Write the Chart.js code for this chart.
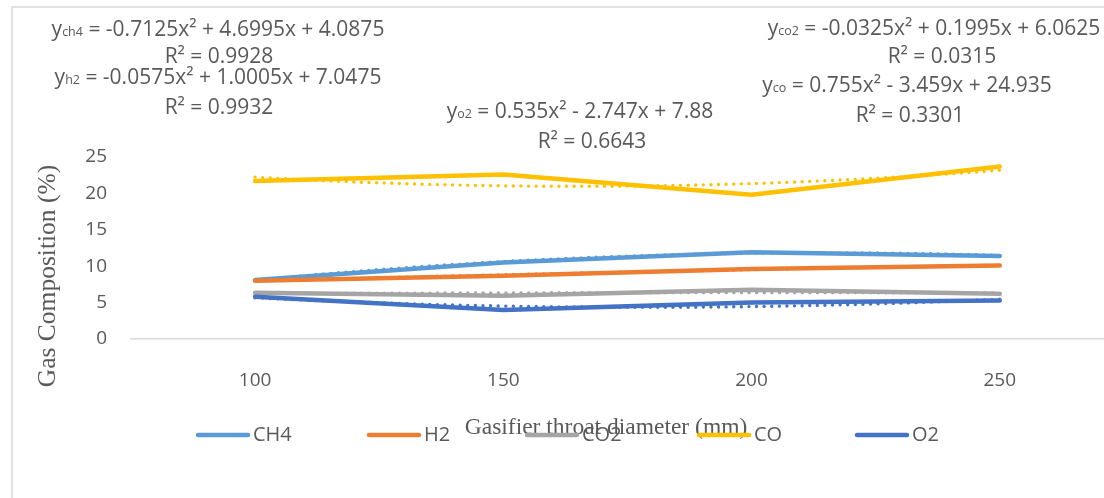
<!DOCTYPE html>
<html>
<head>
<meta charset="utf-8">
<script src="https://cdn.jsdelivr.net/npm/chart.js@4.4.1/dist/chart.umd.min.js"></script>
<style>
  html, body { margin: 0; padding: 0; background: #ffffff; overflow: hidden; }
  #wrap { position: relative; width: 1104px; height: 498px; }
  canvas { display: block; }
</style>
</head>
<body>
<div id="wrap"><canvas id="gas" width="1104" height="498"></canvas></div>
<script>
// Gasifier throat diameter (mm)
const categories = [100, 150, 200, 250];
const yTicks = [0, 5, 10, 15, 20, 25];

// Gas composition (%) per throat diameter
const ch4 = [8.1, 10.5, 11.9, 11.4];
const h2  = [8.0, 8.7, 9.6, 10.1];
const co2 = [6.35, 5.95, 6.75, 6.2];
const co  = [21.7, 22.6, 19.8, 23.7];
const o2  = [5.8, 4.0, 5.0, 5.3];

const seriesNames = ['CH4', 'H2', 'CO2', 'CO', 'O2'];
const subscripts  = ['ch4', 'h2', 'co2', 'co', 'o2'];

// Polynomial trendline coefficients [a, b, c] for y = a·x² + b·x + c (x = category index 1..4)
const fitCH4 = [-0.7125, 4.6995, 4.0875];
const fitH2  = [-0.0575, 1.0005, 7.0475];
const fitCO2 = [-0.0325, 0.1995, 6.0625];
const fitCO  = [0.755, -3.459, 24.935];
const fitO2  = [0.535, -2.747, 7.88];
const rSquared = [0.9928, 0.9932, 0.0315, 0.3301, 0.6643];

const seriesValues = [ch4, h2, co2, co, o2];
const fits = [fitCH4, fitH2, fitCO2, fitCO, fitO2];
const colors = ['#5B9BD5', '#ED7D31', '#A5A5A5', '#FFC000', '#4472C4'];

const TEXT = '#595959';
const SANS = '"Open Sans", "Liberation Sans", sans-serif';
const SERIF = '"Liberation Serif", "Times New Roman", serif';

// Trendline samples: evaluate each fitted quadratic along the category index
function trendPoints(coef) {
  const pts = [];
  const step = categories[1] - categories[0];
  for (let k = 0; k <= 60; k++) {
    const t = 1 + k * 0.05;
    const y = coef[0] * t * t + coef[1] * t + coef[2];
    pts.push({ x: categories[0] + (t - 1) * step, y });
  }
  return pts;
}

const datasets = [];
seriesValues.forEach((vals, i) => {
  datasets.push({
    label: seriesNames[i],
    data: categories.map((x, j) => ({ x, y: vals[j] })),
    borderColor: colors[i],
    backgroundColor: colors[i],
    borderWidth: 4.5,
    borderCapStyle: 'round',
    borderJoinStyle: 'round',
    pointRadius: 0,
    tension: 0,
    order: 10 - i
  });
});
fits.forEach((coef, i) => {
  datasets.push({
    label: 'Poly. (' + seriesNames[i] + ')',
    data: trendPoints(coef),
    borderColor: colors[i],
    borderWidth: 3.4,
    borderDash: [0, 7.6],
    borderCapStyle: 'round',
    pointRadius: 0,
    tension: 0,
    order: 30 - i
  });
});

function fmtTerm(v, first) {
  if (first) return (v < 0 ? '-' : '') + Math.abs(v);
  return (v < 0 ? ' - ' : ' + ') + Math.abs(v);
}

// Trendline equation + R² label positions (centre x, baseline y)
const eqLayout = [
  { eq: [218, 36], r2: [219, 63] },
  { eq: [218, 84], r2: [219, 114] },
  { eq: [934, 35], r2: [942, 63] },
  { eq: [907, 92], r2: [910, 122] },
  { eq: [580, 118], r2: [592, 148] }
];

const decorations = {
  id: 'decorations',
  beforeDraw(chart) {
    const ctx = chart.ctx;
    ctx.save();
    ctx.fillStyle = '#ffffff';
    ctx.fillRect(0, 0, chart.width, chart.height);
    ctx.strokeStyle = '#d9d9d9';
    ctx.lineWidth = 1.5;
    ctx.beginPath();
    ctx.moveTo(12, chart.height);
    ctx.lineTo(12, 7);
    ctx.lineTo(chart.width, 7);
    ctx.stroke();
    ctx.restore();
  },
  afterDraw(chart) {
    const ctx = chart.ctx;
    ctx.save();
    ctx.fillStyle = TEXT;

    // Axis titles
    ctx.font = '23.5px ' + SERIF;
    ctx.textAlign = 'center';
    ctx.textBaseline = 'alphabetic';
    ctx.fillText('Gasifier throat diameter (mm)', 606, 434);
    ctx.save();
    ctx.translate(48, 276);
    ctx.rotate(-Math.PI / 2);
    ctx.font = '25.5px ' + SERIF;
    ctx.textBaseline = 'middle';
    ctx.fillText('Gas Composition (%)', 0, 0);
    ctx.restore();

    // Legend
    const legendX = [196, 367, 525, 697, 855];
    ctx.font = '20px ' + SANS;
    ctx.textAlign = 'left';
    ctx.textBaseline = 'middle';
    seriesNames.forEach((name, i) => {
      const x0 = legendX[i];
      ctx.strokeStyle = colors[i];
      ctx.lineWidth = 4.5;
      ctx.lineCap = 'round';
      ctx.beginPath();
      ctx.moveTo(x0 + 2, 435);
      ctx.lineTo(x0 + 52, 435);
      ctx.stroke();
      ctx.fillStyle = TEXT;
      ctx.fillText(name, x0 + 57, 435);
    });

    // Trendline equations
    ctx.textBaseline = 'alphabetic';
    ctx.textAlign = 'left';
    const big = '21px ' + SANS;
    const small = '12.5px ' + SANS;
    fits.forEach((coef, i) => {
      const body = ' = ' + fmtTerm(coef[0], true) + 'x\u00B2' + fmtTerm(coef[1], false) + 'x' + fmtTerm(coef[2], false);
      ctx.font = big; const wY = ctx.measureText('y').width; const wBody = ctx.measureText(body).width;
      ctx.font = small; const wSub = ctx.measureText(subscripts[i]).width;
      const total = wY + wSub + wBody;
      let x = eqLayout[i].eq[0] - total / 2;
      const yb = eqLayout[i].eq[1];
      ctx.font = big; ctx.fillText('y', x, yb); x += wY;
      ctx.font = small; ctx.fillText(subscripts[i], x, yb); x += wSub;
      ctx.font = big; ctx.fillText(body, x, yb);

      ctx.textAlign = 'center';
      ctx.fillText('R\u00B2 = ' + rSquared[i].toFixed(4), eqLayout[i].r2[0], eqLayout[i].r2[1]);
      ctx.textAlign = 'left';
    });
    ctx.restore();
  }
};

new Chart(document.getElementById('gas'), {
  type: 'line',
  data: { datasets },
  options: {
    responsive: false,
    animation: false,
    events: [],
    layout: { padding: { top: 157, left: 0, right: 0, bottom: 0 } },
    plugins: { legend: { display: false }, tooltip: { enabled: false } },
    scales: {
      x: {
        type: 'linear',
        min: 75,
        max: 271,
        afterBuildTicks: (scale) => { scale.ticks = categories.map(v => ({ value: v })); },
        afterFit: (scale) => { scale.height = 159; },
        grid: { display: false, drawTicks: false },
        border: { display: true, color: '#d9d9d9', width: 1.5 },
        ticks: { color: TEXT, font: { family: SANS, size: 19 }, padding: 30, maxRotation: 0, autoSkip: false }
      },
      y: {
        min: 0,
        max: 25,
        afterBuildTicks: (scale) => { scale.ticks = yTicks.map(v => ({ value: v })); },
        afterFit: (scale) => { scale.width = 131; },
        grid: { display: false, drawTicks: false },
        border: { display: false },
        ticks: { color: TEXT, font: { family: SANS, size: 19 }, padding: 24 }
      }
    }
  },
  plugins: [decorations]
});
</script>
</body>
</html>
